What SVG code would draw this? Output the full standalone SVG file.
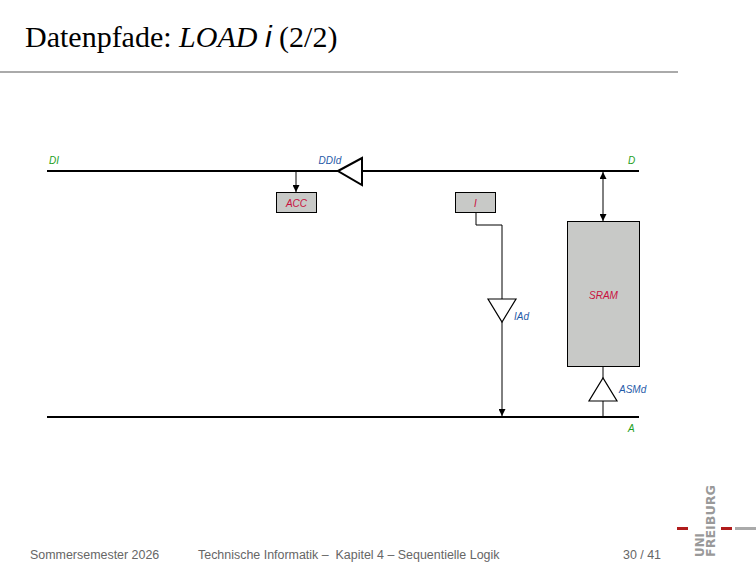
<svg xmlns="http://www.w3.org/2000/svg" width="756" height="567" viewBox="0 0 756 567">
<defs>
<style>
.lbl{font-family:"Liberation Sans",Arial,sans-serif;font-style:italic;font-size:10px}
.g{fill:#1ea01e}
.b{fill:#1f5aa8}
.r{fill:#c8103e}
.bus{stroke:#000;stroke-width:2;fill:none}
.w{stroke:#000;stroke-width:1;fill:none}
.box{fill:#c8c9c7;stroke:#000;stroke-width:1}
.tri{fill:#fff;stroke:#000;stroke-width:1.2}
.foot{font-family:"Liberation Sans",Arial,sans-serif;font-size:12.45px;fill:#666}
.logo{font-family:"DejaVu Sans",sans-serif;font-weight:bold;font-size:11.5px;fill:#999}
</style>
<marker id="ah" viewBox="0 0 10 10" refX="10" refY="5" markerWidth="7" markerHeight="7" markerUnits="userSpaceOnUse" orient="auto-start-reverse">
<path d="M0,0 L10,5 L0,10 Z" fill="#000"/>
</marker>
</defs>
<rect width="756" height="567" fill="#fff"/>
<text x="25" y="47" font-family="'Liberation Serif','Times New Roman',serif" font-size="30" fill="#000">Datenpfade: <tspan font-style="italic">LOAD</tspan> <tspan font-family="'Liberation Sans',Arial,sans-serif" font-style="italic">i</tspan> (2/2)</text>
<rect x="0" y="71" width="678" height="2" fill="#aaa"/>

<g id="connectors">
<line class="bus" x1="47" y1="171" x2="639" y2="171"/>
<line class="bus" x1="47" y1="417" x2="639" y2="417"/>
<line class="w" x1="296" y1="171" x2="296" y2="192" marker-end="url(#ah)"/>
<polyline class="w" points="476,212 476,225 502,225 502,299"/>
<line class="w" x1="502" y1="322" x2="502" y2="416" marker-end="url(#ah)"/>
<line class="w" x1="603" y1="172" x2="603" y2="221" marker-start="url(#ah)" marker-end="url(#ah)"/>
<line class="w" x1="603" y1="366" x2="603" y2="378"/>
<line class="w" x1="603" y1="401" x2="603" y2="417"/>
</g>

<g id="DI"><text class="lbl g" x="49" y="163.5">DI</text></g>
<g id="D"><text class="lbl g" x="628" y="163.5">D</text></g>
<g id="A"><text class="lbl g" x="628" y="431.5">A</text></g>

<g id="DDId">
<polygon points="338,171 362,158 362,185" fill="#fff" stroke="#000" stroke-width="2"/>
<text class="lbl b" x="318.5" y="163.5">DDId</text>
</g>

<g id="ACC">
<rect class="box" x="276.5" y="192.5" width="40" height="20"/>
<text class="lbl r" x="296.5" y="207" text-anchor="middle">ACC</text>
</g>

<g id="I">
<rect class="box" x="455.5" y="192.5" width="40" height="20"/>
<text class="lbl r" x="475.5" y="207" text-anchor="middle">I</text>
</g>

<g id="IAd">
<polygon class="tri" points="488,299 516,299 502,322"/>
<text class="lbl b" x="514" y="319.5">IAd</text>
</g>

<g id="SRAM">
<rect class="box" x="567.5" y="221.5" width="72" height="145"/>
<text class="lbl r" x="603.5" y="298.5" text-anchor="middle">SRAM</text>
</g>

<g id="ASMd">
<polygon class="tri" points="589,401 617,401 603,378"/>
<text class="lbl b" x="619" y="393">ASMd</text>
</g>

<g id="footer">
<text class="foot" x="30" y="558.5">Sommersemester 2026</text>
<text class="foot" x="198" y="558.5" xml:space="preserve">Technische Informatik –  Kapitel 4 – Sequentielle Logik</text>
<text class="foot" x="623" y="558.5">30 / 41</text>
</g>

<g id="logo">
<rect x="677" y="527" width="11" height="3" fill="#b01c1c"/>
<rect x="721" y="527" width="11" height="3" fill="#b01c1c"/>
<rect x="735" y="527" width="21" height="3" fill="#aaa"/>
<text class="logo" transform="translate(703.5,557) rotate(-90)" textLength="24" lengthAdjust="spacingAndGlyphs">UNI</text>
<text class="logo" transform="translate(715,557) rotate(-90)" textLength="72" lengthAdjust="spacingAndGlyphs">FREIBURG</text>
</g>
</svg>
